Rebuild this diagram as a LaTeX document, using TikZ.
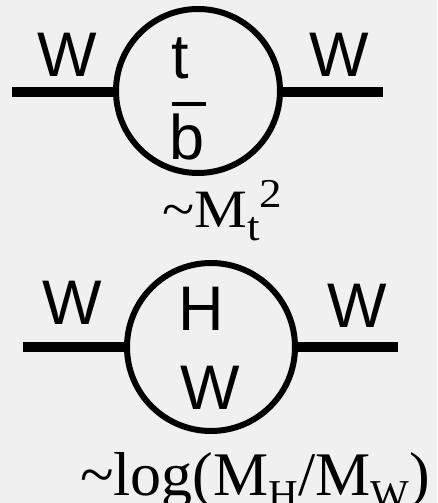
\documentclass[tikz,border=0pt]{standalone}
\usepackage{fontspec}
\setmainfont{Liberation Serif}
\newfontfamily\arialf{Liberation Sans}
\newcommand{\subsz}[1]{{\fontsize{41}{41}\selectfont #1}}
\begin{document}
\begin{tikzpicture}[x=1pt,y=-1pt,
  lbl/.style={font=\arialf\fontsize{63}{63}\selectfont, anchor=base, inner sep=0pt},
  frm/.style={anchor=base west, inner sep=0pt},
  loop/.style={circle, draw, line width=6pt, inner sep=0pt},
  leg/.style={line width=10pt}]
\fill[white!94!black] (0,0) rectangle (437,503);
\useasboundingbox (0,0) rectangle (437,503);
% top diagram
\node[loop, minimum size=164pt] (c1) at (198,91) {};
\coordinate (l1) at (12,92);
\coordinate (r1) at (383,92);
\draw[leg] (l1) -- (c1.west |- l1);
\draw[leg] (c1.east |- r1) -- (r1);
\node[lbl] (w1l) at (67,77) {W};
\node[lbl] (w1r) at (339,77) {W};
\node[lbl] (t1) at (180,78) {t};
\node[lbl] (b1) at (187,159) {b};
\draw[line width=4.5pt] (172,104) -- (206,104);
\node[frm, xscale=1.1, font=\fontsize{54}{60}\selectfont] (f1) at (162,227)
  {\textasciitilde M\raisebox{-13pt}{\subsz{t}}\raisebox{20pt}{\subsz{2}}};
% bottom diagram
\node[loop, minimum size=168pt] (c2) at (211,347) {};
\coordinate (l2) at (23,347);
\coordinate (r2) at (398,347);
\draw[leg] (l2) -- (c2.west |- l2);
\draw[leg] (c2.east |- r2) -- (r2);
\node[lbl] (w2l) at (72,324) {W};
\node[lbl] (w2r) at (357,327) {W};
\node[lbl] (h2) at (201,330) {H};
\node[lbl] (w2i) at (210,409) {W};
\node[frm, font=\fontsize{62}{66}\selectfont] (f2) at (80,495)
  {\textasciitilde log(M\raisebox{-13pt}{\subsz{H}}/M\raisebox{-13pt}{\subsz{W}})};
\end{tikzpicture}
\end{document}
